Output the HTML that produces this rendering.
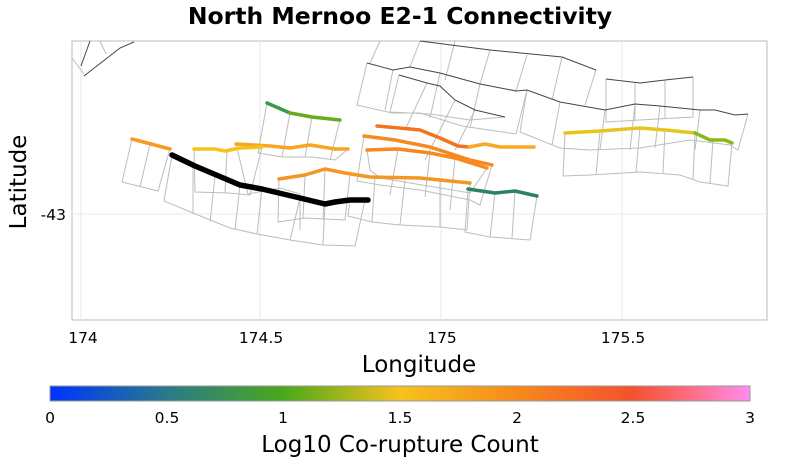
<!DOCTYPE html>
<html><head><meta charset="utf-8"><style>
body{margin:0;background:#fff;width:800px;height:467px;overflow:hidden;font-family:"DejaVu Sans",sans-serif}
</style></head><body>
<svg width="800" height="467" xmlns="http://www.w3.org/2000/svg" font-family="DejaVu Sans, sans-serif">
<defs>
<linearGradient id="cb" x1="0" x2="1" y1="0" y2="0">
<stop offset="0" stop-color="#0033ff"/>
<stop offset="0.167" stop-color="#2a7a8a"/>
<stop offset="0.333" stop-color="#4aa81c"/>
<stop offset="0.5" stop-color="#f6c21e"/>
<stop offset="0.667" stop-color="#f7891c"/>
<stop offset="0.833" stop-color="#f4512e"/>
<stop offset="0.92" stop-color="#ff6f8a"/>
<stop offset="1" stop-color="#ff8cf0"/>
</linearGradient>
</defs>
<text x="400" y="24" text-anchor="middle" font-size="23.5" font-weight="bold" fill="#000">North Mernoo E2-1 Connectivity</text>
<rect x="72" y="41" width="695" height="279" fill="#fff" stroke="#bbb" stroke-width="1"/>
<g stroke="#e8e8e8" stroke-width="1">
<line x1="81" y1="41" x2="81" y2="320"/><line x1="260" y1="41" x2="260" y2="320"/>
<line x1="441" y1="41" x2="441" y2="320"/><line x1="622" y1="41" x2="622" y2="320"/>
<line x1="72" y1="214" x2="767" y2="214"/>
</g>
<g fill="none" stroke="#bdbdbd" stroke-width="1">
<polyline points="132,139 122,182 158,191 170,149"/><line x1="150" y1="144" x2="140" y2="187"/>
<polyline points="172,155 164,201 193,213 230,228 257,234 290,240 323,245 355,246 365,200"/>
<line x1="193" y1="166" x2="193" y2="213"/><line x1="215" y1="176" x2="210" y2="222"/><line x1="240" y1="185" x2="235" y2="230"/><line x1="262" y1="189" x2="257" y2="234"/><line x1="300" y1="198" x2="290" y2="240"/><line x1="325" y1="204" x2="323" y2="245"/>
<polyline points="194,149 195,192 228,193 250,195 262,147"/><line x1="227" y1="151" x2="225" y2="193"/>
<polyline points="236,144 248,194 280,188 300,194 300,230"/>
<polyline points="267,103 258,153 282,157 312,157 335,160 348,149"/><line x1="290" y1="113" x2="282" y2="157"/><line x1="312" y1="117" x2="305" y2="157"/><line x1="340" y1="120" x2="330" y2="160"/>
<polyline points="279,179 278,222 305,218 345,220 350,174"/><line x1="305" y1="175" x2="303" y2="218"/><line x1="325" y1="169" x2="323" y2="220"/>
<polyline points="364,136 357,181 380,185 420,190 470,200 480,205 492,165"/>
<polyline points="367,150 370,170 380,178 470,193 487,168"/><line x1="398" y1="149" x2="390" y2="195"/><line x1="430" y1="153" x2="425" y2="197"/><line x1="455" y1="158" x2="450" y2="210"/>
<polyline points="350,200 348,216 372,222 400,225 440,227 467,230 470,183"/><line x1="375" y1="177" x2="372" y2="222"/><line x1="405" y1="180" x2="400" y2="225"/><line x1="440" y1="180" x2="440" y2="227"/>
<polyline points="468,189 465,232 490,237 530,240 537,196"/><line x1="495" y1="193" x2="490" y2="237"/><line x1="515" y1="191" x2="512" y2="238"/>
<polyline points="367,63 357,105 392,113 420,113 462,126 516,134 527,90"/><line x1="393" y1="70" x2="385" y2="110"/><line x1="440" y1="73" x2="430" y2="118"/><line x1="480" y1="84" x2="470" y2="128"/>
<polyline points="399,75 390,112 430,114 470,120 505,117"/><line x1="427" y1="83" x2="405" y2="130"/><line x1="455" y1="100" x2="425" y2="160"/><line x1="475" y1="110" x2="455" y2="150"/>
<polyline points="527,90 520,132 560,148 590,150 640,148 690,140 730,145 738,150 748,114"/><line x1="560" y1="102" x2="552" y2="145"/><line x1="605" y1="110" x2="600" y2="150"/><line x1="635" y1="104" x2="630" y2="150"/><line x1="660" y1="106" x2="655" y2="148"/><line x1="700" y1="110" x2="695" y2="150"/>
<polyline points="565,133 563,176 590,175 640,172 680,175 700,182 728,186 732,143"/><line x1="600" y1="131" x2="596" y2="175"/><line x1="640" y1="128" x2="636" y2="172"/><line x1="665" y1="130" x2="663" y2="173"/><line x1="695" y1="133" x2="693" y2="180"/><line x1="713" y1="140" x2="710" y2="183"/>
<polyline points="606,79 606,122 640,120 693,117 693,77"/><line x1="635" y1="82" x2="635" y2="120"/><line x1="665" y1="80" x2="665" y2="118"/>
<line x1="380" y1="41" x2="370" y2="63"/><line x1="420" y1="41" x2="410" y2="67"/><line x1="455" y1="41" x2="445" y2="80"/><line x1="490" y1="50" x2="480" y2="84"/><line x1="527" y1="55" x2="516" y2="91"/><line x1="562" y1="57" x2="552" y2="100"/><line x1="596" y1="70" x2="585" y2="105"/>
<polyline points="72,58 84,74"/><line x1="100" y1="41" x2="106" y2="54"/>
</g>
<g fill="none" stroke="#444" stroke-width="1">
<polyline points="367,63 393,70 410,67 440,73 480,84 516,91 527,90 560,102 605,110 635,104 660,106 700,110 715,110 735,115 748,114"/>
<polyline points="399,75 427,83 440,86 455,100 475,110 505,117"/>
<polyline points="420,41 490,50 562,57 596,70"/>
<polyline points="606,79 640,83 665,80 693,77"/>
<polyline points="81,66 90,41"/><polyline points="84,76 120,48 134,42"/>
</g>
<g fill="none" stroke-width="3.5" stroke-linecap="round" stroke-linejoin="round">
<polyline stroke="#f89a22" points="132,139 170,149"/>
<polyline stroke="#3a9a48" points="267,103 290,113"/><polyline stroke="#6aab1c" points="290,113 312,117 340,120"/>
<polyline stroke="#f7a522" points="236,144 270,146 290,148 310,145 335,149 348,149"/>
<polyline stroke="#f8c21e" points="194,149 215,149 225,151 240,148 262,147"/>
<polyline stroke="#f79522" points="279,179 305,175 325,169 345,173 370,177 420,178 470,183"/>
<polyline stroke="#f2741e" points="377,126 410,129 420,130 440,138 458,146 469,147"/>
<polyline stroke="#f8a823" points="469,147 485,144 500,147 534,147"/>
<polyline stroke="#f58a1e" points="364,136 395,140 430,147 470,160 492,165"/>
<polyline stroke="#f68a1e" points="367,150 398,149 430,153 455,158 487,168"/>
<polyline stroke="#2e8068" points="468,189 495,193 515,191 537,196"/>
<polyline stroke="#e8c41e" points="565,133 600,131 640,128 665,130 695,133"/>
<polyline stroke="#8ab81a" points="695,133 710,140 725,140 732,143"/>
<polyline stroke="#000" stroke-width="5.5" points="172,155 195,166 240,185 262,189 300,198 325,204 335,202 350,200 368,200"/>
</g>
<g font-size="15.5" fill="#000">
<text x="83" y="343" text-anchor="middle">174</text>
<text x="261" y="343" text-anchor="middle">174.5</text>
<text x="442" y="343" text-anchor="middle">175</text>
<text x="623" y="343" text-anchor="middle">175.5</text>
<text x="66" y="220" text-anchor="end">-43</text>
</g>
<text x="419" y="372" text-anchor="middle" font-size="23">Longitude</text>
<text x="26" y="182" text-anchor="middle" font-size="23" transform="rotate(-90 26 182)">Latitude</text>
<rect x="50" y="386" width="700" height="15" fill="url(#cb)" stroke="#999" stroke-width="1"/>
<g font-size="15.5" fill="#000" text-anchor="middle">
<text x="50" y="423">0</text><text x="167" y="423">0.5</text><text x="283" y="423">1</text>
<text x="400" y="423">1.5</text><text x="517" y="423">2</text><text x="633" y="423">2.5</text><text x="750" y="423">3</text>
</g>
<text x="400" y="452" text-anchor="middle" font-size="23">Log10 Co-rupture Count</text>
</svg>
</body></html>
